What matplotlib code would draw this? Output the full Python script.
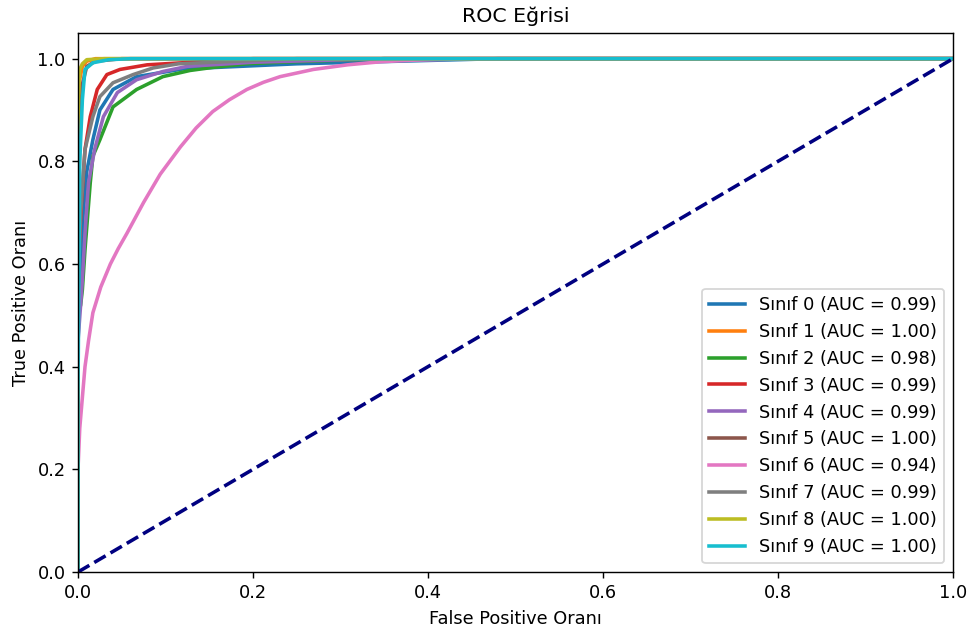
import matplotlib
matplotlib.use("Agg")
import matplotlib.pyplot as plt

labels = ["Sınıf 0", "Sınıf 1", "Sınıf 2", "Sınıf 3", "Sınıf 4",
          "Sınıf 5", "Sınıf 6", "Sınıf 7", "Sınıf 8", "Sınıf 9"]
aucs = [0.99, 1.00, 0.98, 0.99, 0.99, 1.00, 0.94, 0.99, 1.00, 1.00]

fpr0 = [0, 0, 0.003, 0.006, 0.01, 0.017, 0.025, 0.04, 0.067, 0.12, 0.25, 0.48, 1.0]
tpr0 = [0, 0.45, 0.6, 0.7, 0.78, 0.842, 0.9, 0.94, 0.965, 0.98, 0.99, 1.0, 1.0]
fpr1 = [0, 0, 0.002, 0.005, 0.01, 0.02, 1.0]
tpr1 = [0, 0.9, 0.96, 0.985, 0.995, 1.0, 1.0]
fpr2 = [0, 0, 0.003, 0.005, 0.008, 0.014, 0.017, 0.025, 0.04, 0.067, 0.097, 0.128, 0.154, 0.193, 0.23, 0.35, 1.0]
tpr2 = [0, 0.5, 0.52, 0.55, 0.628, 0.758, 0.81, 0.842, 0.906, 0.94, 0.965, 0.977, 0.983, 0.99, 0.993, 1.0, 1.0]
fpr3 = [0, 0, 0.004, 0.008, 0.014, 0.022, 0.033, 0.048, 0.079, 0.2, 1.0]
tpr3 = [0, 0.6, 0.72, 0.823, 0.887, 0.94, 0.969, 0.979, 0.988, 1.0, 1.0]
fpr4 = [0, 0, 0.003, 0.005, 0.008, 0.012, 0.019, 0.029, 0.045, 0.067, 0.097, 0.125, 0.2, 0.35, 1.0]
tpr4 = [0, 0.45, 0.52, 0.57, 0.66, 0.758, 0.823, 0.887, 0.934, 0.959, 0.975, 0.985, 0.993, 1.0, 1.0]
fpr5 = [0, 0, 0.002, 0.005, 0.01, 0.02, 0.05, 1.0]
tpr5 = [0, 0.6, 0.85, 0.95, 0.985, 0.995, 1.0, 1.0]
fpr6 = [0, 0, 0.002, 0.005, 0.008, 0.012, 0.017, 0.026, 0.037, 0.046, 0.056, 0.075, 0.094, 0.117,
        0.135, 0.154, 0.173, 0.193, 0.212, 0.231, 0.269, 0.308, 0.346, 0.383, 0.45, 1.0]
tpr6 = [0, 0.2, 0.28, 0.34, 0.4, 0.45, 0.505, 0.555, 0.6, 0.63, 0.66, 0.72, 0.775, 0.828,
        0.865, 0.897, 0.92, 0.94, 0.954, 0.965, 0.979, 0.988, 0.994, 0.997, 1.0, 1.0]
fpr7 = [0, 0, 0.003, 0.008, 0.017, 0.025, 0.04, 0.063, 0.086, 0.115, 0.25, 1.0]
tpr7 = [0, 0.55, 0.7, 0.823, 0.887, 0.926, 0.953, 0.969, 0.982, 0.99, 1.0, 1.0]
fpr8 = [0, 0, 0.001, 0.002, 0.005, 0.01, 0.03, 1.0]
tpr8 = [0, 0.88, 0.95, 0.979, 0.99, 0.998, 1.0, 1.0]
fpr9 = [0, 0, 0.002, 0.005, 0.008, 0.017, 0.035, 0.06, 1.0]
tpr9 = [0, 0.35, 0.8, 0.92, 0.979, 0.992, 0.998, 1.0, 1.0]

fprs = [fpr0, fpr1, fpr2, fpr3, fpr4, fpr5, fpr6, fpr7, fpr8, fpr9]
tprs = [tpr0, tpr1, tpr2, tpr3, tpr4, tpr5, tpr6, tpr7, tpr8, tpr9]
diag = [0, 1]

fig = plt.figure(figsize=(972 / 128, 635 / 128), dpi=128)
ax = fig.add_axes([78 / 972, 63 / 635, 875 / 972, 539 / 635])
for i in range(10):
    ax.plot(fprs[i], tprs[i], lw=2, label=f"{labels[i]} (AUC = {aucs[i]:.2f})")
ax.plot(diag, diag, color="navy", lw=2, linestyle="--")
ax.set_xlim(0.0, 1.0)
ax.set_ylim(0.0, 1.05)
ax.set_xlabel("False Positive Oranı")
ax.set_ylabel("True Positive Oranı")
ax.set_title("ROC Eğrisi", fontsize=11.5)
ax.legend(loc="lower right")
fig.savefig("out.png", dpi=128)
